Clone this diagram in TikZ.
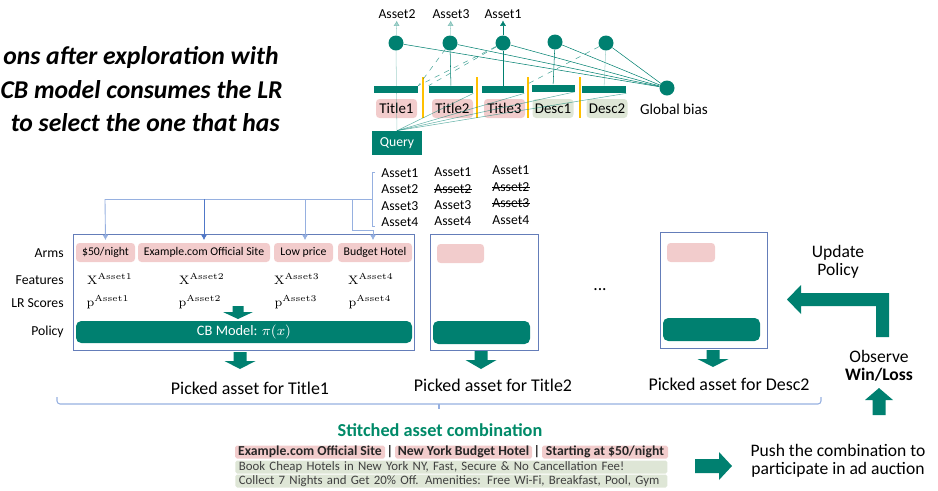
\documentclass[tikz,border=0pt]{standalone}
\usepackage[no-math]{fontspec}
\setmainfont{Carlito}
\usetikzlibrary{arrows.meta}
\definecolor{CBTeal}{RGB}{0,128,112}
\definecolor{ArmPink}{RGB}{242,204,204}
\definecolor{DescGreen}{RGB}{222,230,214}
\definecolor{BoxBlue}{RGB}{100,125,185}
\definecolor{TreeBlue}{RGB}{150,176,224}
\definecolor{TreeDark}{RGB}{80,120,200}
\definecolor{SepOrange}{RGB}{255,192,0}
\definecolor{StitchGreen}{RGB}{0,138,104}
\newcommand{\pxu}{0.02cm}
\newcommand{\fsz}[1]{\fontsize{#1}{#1}\selectfont}

\begin{document}
\begin{tikzpicture}[x=\pxu, y=-\pxu, >={Latex[length=3pt,width=3.5pt]},
  every node/.style={font=\fsz{7.8}},
  unit/.style={circle, fill=CBTeal, inner sep=0pt, minimum size=15*\pxu},
  embbar/.style={fill=CBTeal, inner sep=0pt, minimum width=44*\pxu, minimum height=7*\pxu},
  slottag/.style={rounded corners=2pt, inner sep=0pt, minimum width=41*\pxu, minimum height=19*\pxu, font=\fsz{8.5}},
  armtag/.style={fill=ArmPink, rounded corners=2pt, inner sep=0pt, minimum height=19*\pxu, font=\fsz{6.7}},
  assettxt/.style={inner sep=0pt, anchor=west},
  rowlbl/.style={inner sep=0pt, anchor=east},
  netline/.style={CBTeal, line width=0.3pt},
  treeline/.style={TreeBlue, line width=0.5pt},
  strike/.style={line width=0.4pt},
  armbox/.style={draw=BoxBlue, line width=0.55pt, inner sep=0pt},
  policybar/.style={fill=CBTeal, rounded corners=3pt, inner sep=0pt, minimum height=22*\pxu},
  picked/.style={inner sep=0pt, font=\fsz{10.2}},
  sidetext/.style={inner sep=0pt, font=\fsz{10}, align=center},
  hlpink/.style={fill=ArmPink, rounded corners=1pt, inner sep=0pt, minimum height=13*\pxu, text=black!85, font=\fsz{7.8}\bfseries},
  hlgreen/.style={fill=DescGreen, rounded corners=1pt, inner xsep=2pt, inner ysep=0pt, minimum height=13*\pxu, text=black!75, font=\fsz{7.3}},
  pics/blockarrow/.style n args={4}{code={
    \fill[CBTeal] (-#4,0) -- (#4,0) -- (#4,{#1-#2}) -- (#3,{#1-#2}) -- (0,#1)
      -- (-#3,{#1-#2}) -- (-#4,{#1-#2}) -- cycle;
  }},
]
\useasboundingbox (0,0) rectangle (938,491);

% Caption cut at the left margin
\begin{scope}
  \clip (0,0) rectangle (300,150);
  \node[anchor=east, inner sep=0pt, font=\fsz{14.6}\bfseries\itshape] (cap1) at (279,58) {ons after exploration with};
  \node[anchor=east, inner sep=0pt, font=\fsz{14.6}\bfseries\itshape] (cap2) at (283,90) {CB model consumes the LR};
  \node[anchor=east, inner sep=0pt, font=\fsz{14.6}\bfseries\itshape] (cap3) at (280,123) {to select the one that has};
\end{scope}

% LR network
\foreach \sx in {423,477,528,580}
  \draw[SepOrange, line width=0.8pt] (\sx,77) -- (\sx,118);
\node[unit] (c1) at (396,43) {};
\node[unit] (c2) at (450,43) {};
\node[unit] (c3) at (503,43) {};
\node[unit] (c4) at (555,42) {};
\node[unit] (c5) at (606,43) {};
\node[unit] (gb) at (667,88) {};
\node[inner sep=0pt, font=\fsz{8.6}] (gblbl) at (674,109) {Global bias};
\node[embbar] (b1) at (396,89.5) {};
\node[embbar] (b2) at (451,89.5) {};
\node[embbar, minimum width=42*\pxu] (b3) at (503,89.5) {};
\node[embbar, minimum width=43*\pxu] (b4) at (553,88) {};
\node[embbar] (b5) at (604,89.5) {};
\node[slottag, fill=ArmPink] (t1) at (396.5,108.5) {Title1};
\node[slottag, fill=ArmPink] (t2) at (452.5,108.5) {Title2};
\node[slottag, fill=ArmPink] (t3) at (504.5,108.5) {Title3};
\node[slottag, fill=DescGreen] (d1) at (553,108.5) {Desc1};
\node[slottag, fill=DescGreen] (d2) at (607,108.5) {Desc2};
\node[fill=CBTeal, text=white, minimum width=50*\pxu, minimum height=24*\pxu, inner sep=0pt] (query) at (397,143) {Query};
\node[inner sep=1pt] (top2) at (397,14) {Asset2};
\node[inner sep=1pt] (top3) at (451,14) {Asset3};
\node[inner sep=1pt] (top1) at (503,14) {Asset1};

\draw[->, netline, opacity=.35] (c1) -- (top2);
\draw[->, netline, opacity=.35] (c2) -- (top3);
\draw[->, netline] (c3) -- (top1);
\foreach \u in {c1,c2,c3,c4,c5}
  \draw[netline] (\u) -- (gb);
\draw[netline, opacity=.35] (c1) -- (query);
\draw[netline] (c2) -- (b2);
\draw[netline] (c3) -- (b3);
\draw[netline] (c4) -- (b4);
\draw[netline, opacity=.35] (c5) -- (b5);
\draw[netline, dashed, opacity=.7] (c2) -- (b1.north east);
\draw[netline, dashed, opacity=.7] (c3) -- (b1.north east);
\draw[netline, dashed, opacity=.7] (c3) -- (b2.north west);
\draw[netline, dashed, opacity=.7] (c5) -- (b3.north east);
\foreach \b in {b2,b3,b4,b5}
  \draw[netline, opacity=.6] (query.north) -- (\b.south east);

% Asset candidates
\node[assettxt] (la1) at (381,173) {Asset1};
\node[assettxt] (la2) at (381,189) {Asset2};
\node[assettxt] (la3) at (381,206) {Asset3};
\node[assettxt] (la4) at (381,222) {Asset4};
\node[assettxt] (lb1) at (434,172) {Asset1};
\node[assettxt] (lb2) at (434,189) {Asset2};
\node[assettxt] (lb3) at (434,205) {Asset3};
\node[assettxt] (lb4) at (434,221) {Asset4};
\node[assettxt] (lc1) at (492,170) {Asset1};
\node[assettxt] (lc2) at (492,187) {Asset2};
\node[assettxt] (lc3) at (492,203) {Asset3};
\node[assettxt] (lc4) at (492,220) {Asset4};
\foreach \s in {lb2,lc2,lc3}
  \draw[strike] (\s.west) -- (\s.east);
\draw[treeline] (375,172) -- (372,172) -- (372,226) -- (375,226);
\coordinate (listjoin) at (372,199);

% Arms boxes
\node[armbox, minimum width=341*\pxu, minimum height=116*\pxu] (box1) at (243.5,292) {};
\node[armbox, minimum width=108*\pxu, minimum height=116*\pxu] (box2) at (484,292) {};
\node[armbox, minimum width=107*\pxu, minimum height=116*\pxu] (box3) at (713.5,290) {};

\node[armtag, minimum width=59*\pxu] (a1) at (105.5,252.5) {\$50/night};
\node[armtag, minimum width=132*\pxu] (a2) at (204,252.5) {Example.com Official Site};
\node[armtag, minimum width=59*\pxu] (a3) at (303.5,252.5) {Low price};
\node[armtag, minimum width=74*\pxu] (a4) at (375,252.5) {Budget Hotel};
\node[armtag, minimum width=47*\pxu] (a5) at (460.5,253.5) {};
\node[armtag, minimum width=48*\pxu] (a6) at (691,252.5) {};

\draw[treeline] (listjoin) -- (105,199);
\draw[treeline, ->, TreeBlue] (105,199) -- ([yshift=1.5pt]a1.north);
\draw[treeline, ->, TreeDark] (204,199) -- ([yshift=1.5pt]a2.north);
\draw[treeline, ->] (305,199) -- ([yshift=1.5pt]a3.north -| 305,0);
\draw[treeline, ->] (352,199) |- (373,230) -- ([yshift=1.5pt]a4.north -| 373,0);

\node[rowlbl] (rarms) at (64,253) {Arms};
\node[rowlbl] (rfeat) at (64,280) {Features};
\node[rowlbl] (rlr) at (64,303) {LR Scores};
\node[rowlbl] (rpol) at (64,332) {Policy};

\node[font=\fsz{7.5}] (fx1) at (110,279) {$\mathrm{X}^{\mathrm{Asset1}}$};
\node[font=\fsz{7.5}] (fx2) at (202,279) {$\mathrm{X}^{\mathrm{Asset2}}$};
\node[font=\fsz{7.5}] (fx3) at (297,279) {$\mathrm{X}^{\mathrm{Asset3}}$};
\node[font=\fsz{7.5}] (fx4) at (371,279) {$\mathrm{X}^{\mathrm{Asset4}}$};
\node[font=\fsz{7.5}] (fp1) at (108,302) {$\mathrm{p}^{\mathrm{Asset1}}$};
\node[font=\fsz{7.5}] (fp2) at (200,302) {$\mathrm{p}^{\mathrm{Asset2}}$};
\node[font=\fsz{7.5}] (fp3) at (296,302) {$\mathrm{p}^{\mathrm{Asset3}}$};
\node[font=\fsz{7.5}] (fp4) at (370,302) {$\mathrm{p}^{\mathrm{Asset4}}$};
\pic at (238,306) {blockarrow={13}{7}{15}{5.5}};

\node[policybar, minimum width=336*\pxu, text=white, font=\fsz{8.2}] (cb1) at (244,332) {CB Model: $\pi(x)$};
\node[policybar, minimum width=97*\pxu, minimum height=23*\pxu] (cb2) at (481.5,332.5) {};
\node[policybar, minimum width=97*\pxu, minimum height=23*\pxu] (cb3) at (711.5,329.5) {};
\node[font=\fsz{10}] (dots) at (600,290) {...};

% Picked assets
\pic at (240,352) {blockarrow={17}{8}{15.5}{6.5}};
\pic at (481,351) {blockarrow={18}{9}{15.5}{6.5}};
\pic at (713,350) {blockarrow={17}{8}{15.5}{6.5}};
\node[picked] (pk1) at (250,388) {Picked asset for Title1};
\node[picked] (pk2) at (493,385) {Picked asset for Title2};
\node[picked] (pk3) at (729,384) {Picked asset for Desc2};
\draw[TreeBlue, line width=0.6pt, rounded corners=3*\pxu] (57,397) -- (57,404) -- (821,404) -- (821,397);
\draw[TreeBlue, line width=0.6pt] (439,404) -- (439,409);

% Stitched combination
\node[inner sep=0pt, text=StitchGreen, font=\fsz{10.4}\bfseries] (stitch) at (440,430) {Stitched asset combination};
\node[hlpink, minimum width=150*\pxu] (s1) at (310,452) {Example.com Official Site};
\node[inner sep=0pt, font=\fsz{7.8}\bfseries, text=black!85] (sep1) at (390,452) {|};
\node[hlpink, minimum width=137*\pxu] (s2) at (463.5,452) {New York Budget Hotel};
\node[inner sep=0pt, font=\fsz{7.8}\bfseries, text=black!85] (sep2) at (537,452) {|};
\node[hlpink, minimum width=126*\pxu] (s3) at (605,452) {Starting at \$50/night};
\node[hlgreen, anchor=west, text width=425*\pxu] (s4) at (235,467) {Book Cheap Hotels in New York NY, Fast, Secure \& No Cancellation Fee!};
\node[hlgreen, anchor=west, text width=425*\pxu] (s5) at (235,481) {Collect 7 Nights and Get 20\% Off. Amenities: Free Wi-Fi, Breakfast, Pool, Gym};

% Auction feedback loop
\pic[rotate=90] at (695,466) {blockarrow={37}{13}{14}{7}};
\node[sidetext] (push) at (838,461) {Push the combination to\\participate in ad auction};
\pic[rotate=180] at (879,415) {blockarrow={27}{12}{14}{6.5}};
\node[sidetext] (observe) at (879,366) {Observe\\\textbf{Win/Loss}};
\fill[CBTeal] (876,337) -- (889,337) -- (889,293) -- (801,293) -- (801,285) -- (787,299.5)
  -- (801,314) -- (801,306) -- (876,306) -- cycle;
\node[sidetext] (update) at (838,262) {Update\\Policy};
\end{tikzpicture}
\end{document}
